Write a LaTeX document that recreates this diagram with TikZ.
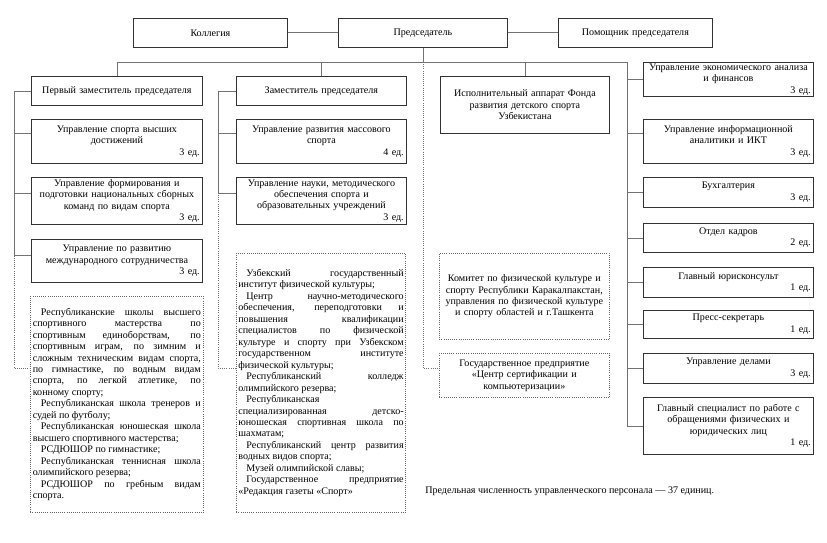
\documentclass[tikz,border=0pt]{standalone}
\usepackage{fontspec}
\setmainfont{Liberation Serif}
\tolerance=10000
\hbadness=10000
\newcommand{\staff}[1]{\\\hspace*{\fill}#1 ед.}
\newcommand{\parstart}{\hspace*{6pt}}

\begin{document}
\begin{tikzpicture}[x=0.75pt,y=-0.75pt,
    font=\fontsize{7.55}{8.6}\selectfont,
    box/.style={draw=black!80,line width=0.6pt,anchor=north west,align=center,inner xsep=2pt,inner ysep=1pt},
    dbox/.style={box,draw=black!60,line width=0.5pt,dash pattern=on 0.6pt off 1pt,align=justify,inner xsep=1.5pt},
    size/.style 2 args={minimum width=#1*0.75pt,text width=#1*0.75pt-4pt,minimum height=#2*0.75pt},
    link/.style={draw=black!55,line width=0.6pt},
    dlink/.style={link,dash pattern=on 0.6pt off 1pt}]
  \path[fill=white] (0,0) rectangle (827,542);

  \node[box,size={154}{29}] (kol) at (133,18) {Коллегия};
  \node[box,size={169}{29}] (pred) at (338,18) {Председатель};
  \node[box,size={154}{29}] (pom) at (558,18) {Помощник председателя};

  \node[box,size={171}{29}] (dep1) at (31,76) {Первый заместитель председателя};
  \node[box,size={171}{44}] (vys) at (31,119) {Управление спорта высших\\достижений\staff{3}};
  \node[box,size={171}{47}] (form) at (31,177) {Управление формирования и\\подготовки национальных сборных\\команд по видам спорта\staff{3}};
  \node[box,size={171}{43}] (mezh) at (31,239) {Управление по развитию\\международного сотрудничества\staff{3}};
  \node[dbox,size={173}{216},text width=126pt] (schools) at (30,296) {%
    \parstart Республиканские школы высшего\linebreak спортивного мастерства по\linebreak спортивным единоборствам, по\linebreak спортивным играм, по зимним и\linebreak сложным техническим видам спорта,\linebreak по гимнастике, по водным видам\linebreak спорта, по легкой атлетике, по\linebreak конному спорту;\par
    \parstart Республиканская школа тренеров и\linebreak судей по футболу;\par
    \parstart Республиканская юношеская школа\linebreak высшего спортивного мастерства;\par
    \parstart РСДЮШОР по гимнастике;\par
    \parstart Республиканская теннисная школа\linebreak олимпийского резерва;\par
    \parstart РСДЮШОР по гребным видам\linebreak спорта.};

  \node[box,size={170}{29}] (dep2) at (236,76) {Заместитель председателя};
  \node[box,size={170}{44}] (mass) at (236,119) {Управление развития массового\\спорта\staff{4}};
  \node[box,size={170}{47}] (nauk) at (236,177) {Управление науки, методического\\обеспечения спорта и\\образовательных учреждений\staff{3}};
  \node[dbox,size={169}{259},text width=124pt] (inst) at (236,253) {%
    \parstart Узбекский государственный\linebreak институт физической культуры;\par
    \parstart Центр научно-методического\linebreak обеспечения, переподготовки и\linebreak повышения квалификации\linebreak специалистов по физической\linebreak культуре и спорту при Узбекском\linebreak государственном институте\linebreak физической культуры;\par
    \parstart Республиканский колледж\linebreak олимпийского резерва;\par
    \parstart Республиканская\linebreak специализированная детско-\linebreak юношеская спортивная школа по\linebreak шахматам;\par
    \parstart Республиканский центр развития\linebreak водных видов спорта;\par
    \parstart Музей олимпийской славы;\par
    \parstart Государственное предприятие\linebreak «Редакция газеты «Спорт»};

  \node[box,size={169}{57}] (ispol) at (440,76) {Исполнительный аппарат Фонда\\развития детского спорта\\Узбекистана};
  \node[dbox,align=center,size={170}{86},text width=124pt] (komit) at (439,253) {Комитет по физической культуре и\\спорту Республики Каракалпакстан,\\управления по физической культуре\\и спорту областей и г.Ташкента};
  \node[dbox,align=center,size={170}{44},text width=124pt] (gp) at (439,353) {Государственное предприятие\\«Центр сертификации и\\компьютеризации»};

  \node[box,size={170}{34}] (ekon) at (643,62) {Управление экономического анализа\\и финансов\staff{3}};
  \node[box,size={170}{44}] (inform) at (643,119) {Управление информационной\\аналитики и ИКТ\staff{3}};
  \node[box,size={170}{30}] (buh) at (643,177) {Бухгалтерия\staff{3}};
  \node[box,size={170}{29}] (kadr) at (643,223) {Отдел кадров\staff{2}};
  \node[box,size={170}{30}] (jur) at (643,267) {Главный юрисконсульт\staff{1}};
  \node[box,size={170}{28}] (press) at (643,310) {Пресс-секретарь\staff{1}};
  \node[box,size={170}{30}] (del) at (643,353) {Управление делами\staff{3}};
  \node[box,size={170}{57}] (spec) at (643,397) {Главный специалист по работе с\\обращениями физических и\\юридических лиц\staff{1}};

  \node[anchor=west,inner sep=0pt] (note) at (425,491) {Предельная численность управленческого персонала — 37 единиц.};

  % bus and side rails
  \coordinate (bus) at (627,62);
  \coordinate (lvl) at (0,368);
  \coordinate (lx) at (14,0);
  \coordinate (mx) at (218,0);

  \draw[link] (kol) -- (pred);
  \draw[link] (pred) -- (pom);
  \draw[link] (pred.south) -- (pred.south |- bus);
  \draw[link] (dep1.north) |- (bus) -- (bus |- spec.west) -- (spec.west);
  \draw[link] (dep2.north) -- (dep2.north |- bus);
  \draw[link] (ispol.north) -- (ispol.north |- bus);
  \draw[dlink] (pred.south |- bus) -- (pred.south |- lvl) -- (gp.west |- lvl);

  \foreach \n in {ekon,buh,kadr,jur,press,del}
    \draw[link] (\n.west) -- (\n.west -| bus);
  \draw[link] ([yshift=6pt]inform.west) -- ([yshift=6pt]inform.west -| bus);

  \draw[link] (dep1.west) -| ([yshift=4pt]mezh.west -| lx) -- ([yshift=4pt]mezh.west);
  \foreach \n in {vys,form}
    \draw[link] ([yshift=6pt]\n.west) -- ([yshift=6pt]\n.west -| lx);
  \draw[dlink] ([yshift=4pt]mezh.west -| lx) -- (lx |- lvl) -- (schools.west |- lvl);

  \draw[link] (dep2.west) -| ([yshift=6pt]nauk.west -| mx) -- ([yshift=6pt]nauk.west);
  \draw[link] ([yshift=6pt]mass.west) -- ([yshift=6pt]mass.west -| mx);
  \draw[dlink] ([yshift=6pt]nauk.west -| mx) -- (mx |- lvl) -- (inst.west |- lvl);
\end{tikzpicture}
\end{document}
